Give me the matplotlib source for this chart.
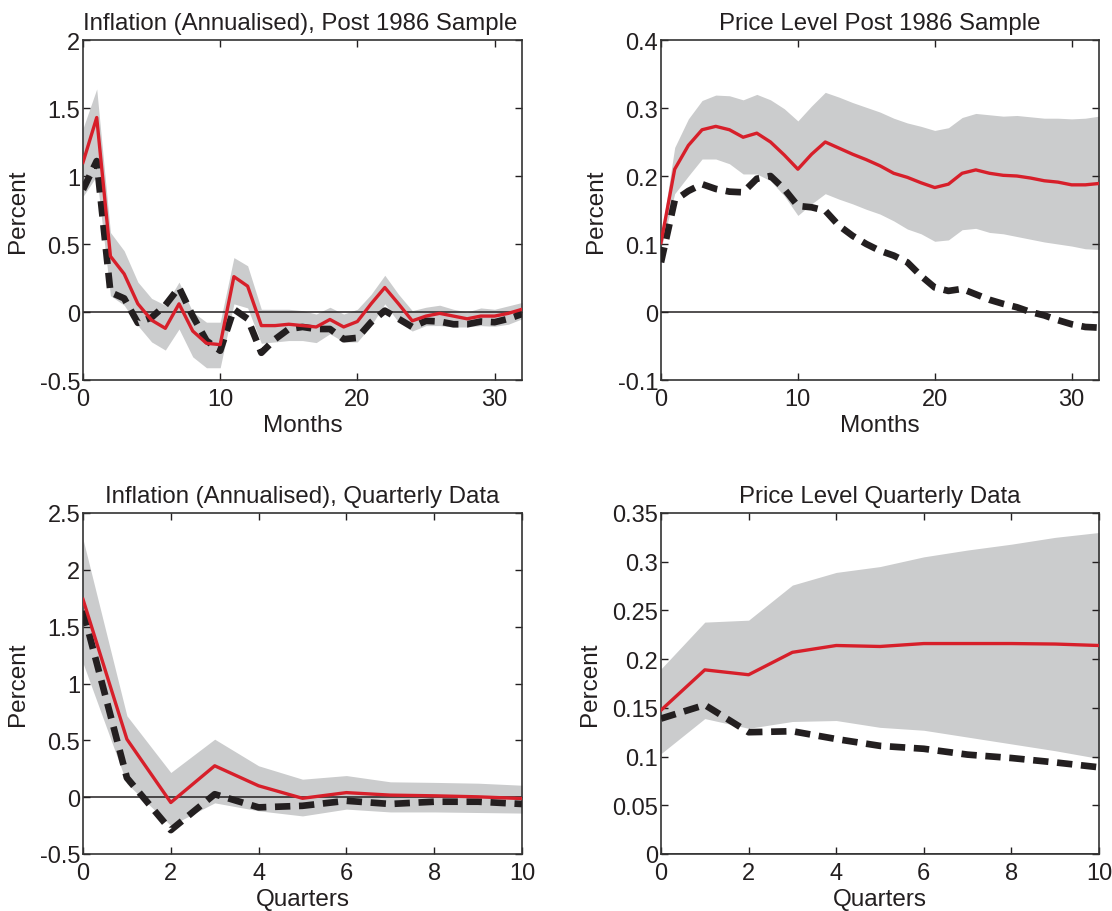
import numpy as np
import matplotlib
matplotlib.use("Agg")
import matplotlib.pyplot as plt

# ── Monthly panels (post 1986 sample), horizon 0..32 ──────────────────────
MONTHS = list(range(33))

INFL_M_RED = [1.10, 1.43, 0.41, 0.28, 0.06, -0.06, -0.12, 0.06, -0.14, -0.23,
              -0.24, 0.26, 0.19, -0.10, -0.10, -0.09, -0.10, -0.11, -0.055, -0.11,
              -0.07, 0.06, 0.18, 0.06, -0.065, -0.03, -0.01, -0.03, -0.05, -0.03,
              -0.03, -0.01, 0.02]
INFL_M_BLK = [0.90, 1.11, 0.145, 0.10, -0.08, -0.04, 0.05, 0.18, -0.03, -0.21,
              -0.285, 0.02, -0.05, -0.30, -0.20, -0.125, -0.11, -0.125, -0.125, -0.20,
              -0.19, -0.075, 0.01, -0.05, -0.11, -0.065, -0.07, -0.09, -0.09, -0.07,
              -0.075, -0.05, -0.015]
INFL_M_HI = [1.35, 1.64, 0.585, 0.45, 0.22, 0.10, 0.05, 0.22, 0.0, -0.075,
             -0.075, 0.40, 0.34, 0.02, 0.02, 0.02, 0.01, -0.015, 0.035, -0.015,
             0.02, 0.13, 0.27, 0.13, 0.01, 0.035, 0.05, 0.02, 0.0, 0.03,
             0.02, 0.045, 0.07]
INFL_M_LO = [0.85, 1.00, 0.12, 0.05, -0.10, -0.22, -0.28, -0.125, -0.33, -0.41,
             -0.41, 0.06, 0.03, -0.23, -0.22, -0.21, -0.21, -0.225, -0.16, -0.22,
             -0.22, -0.10, 0.06, -0.075, -0.14, -0.10, -0.10, -0.11, -0.11, -0.10,
             -0.105, -0.09, -0.05]

PRICE_M_RED = [0.102, 0.21, 0.245, 0.268, 0.273, 0.268, 0.257, 0.263, 0.25, 0.231,
               0.21, 0.232, 0.25, 0.241, 0.232, 0.224, 0.215, 0.204, 0.198, 0.19,
               0.183, 0.188, 0.204, 0.209, 0.204, 0.201, 0.20, 0.197, 0.193, 0.191,
               0.187, 0.187, 0.189]
PRICE_M_BLK = [0.073, 0.164, 0.178, 0.188, 0.181, 0.177, 0.176, 0.196, 0.20, 0.181,
               0.156, 0.154, 0.149, 0.127, 0.112, 0.10, 0.09, 0.083, 0.073, 0.053,
               0.036, 0.031, 0.034, 0.026, 0.018, 0.012, 0.007, 0.0, -0.005, -0.012,
               -0.018, -0.022, -0.023]
PRICE_M_HI = [0.11, 0.242, 0.284, 0.311, 0.319, 0.318, 0.312, 0.32, 0.312, 0.299,
              0.281, 0.303, 0.323, 0.316, 0.308, 0.301, 0.294, 0.285, 0.278, 0.273,
              0.267, 0.271, 0.286, 0.292, 0.29, 0.288, 0.289, 0.287, 0.285, 0.285,
              0.284, 0.285, 0.288]
PRICE_M_LO = [0.093, 0.174, 0.20, 0.225, 0.225, 0.218, 0.203, 0.203, 0.193, 0.171,
              0.142, 0.159, 0.174, 0.166, 0.159, 0.151, 0.144, 0.134, 0.122, 0.115,
              0.104, 0.106, 0.121, 0.123, 0.117, 0.115, 0.111, 0.107, 0.103, 0.10,
              0.097, 0.093, 0.092]

# ── Quarterly panels, horizon 0..10 ───────────────────────────────────────
QUARTERS = list(range(11))

INFL_Q_RED = [1.74, 0.51, -0.047, 0.276, 0.10, -0.01, 0.04, 0.018, 0.012, 0.003, -0.012]
INFL_Q_BLK = [1.64, 0.17, -0.29, 0.026, -0.09, -0.076, -0.032, -0.06, -0.04, -0.04, -0.06]
INFL_Q_HI = [2.27, 0.716, 0.217, 0.51, 0.276, 0.158, 0.19, 0.135, 0.13, 0.123, 0.105]
INFL_Q_LO = [1.18, 0.12, -0.25, -0.05, -0.12, -0.165, -0.105, -0.13, -0.13, -0.135, -0.14]

PRICE_Q_RED = [0.1476, 0.189, 0.184, 0.207, 0.214, 0.213, 0.216, 0.216, 0.216, 0.2155, 0.214]
PRICE_Q_BLK = [0.139, 0.153, 0.125, 0.126, 0.118, 0.111, 0.108, 0.102, 0.0985, 0.094, 0.089]
PRICE_Q_HI = [0.19, 0.238, 0.24, 0.276, 0.289, 0.295, 0.305, 0.312, 0.318, 0.325, 0.33]
PRICE_Q_LO = [0.103, 0.139, 0.129, 0.136, 0.137, 0.13, 0.127, 0.12, 0.113, 0.106, 0.098]

# ── Axis ticks / labels ───────────────────────────────────────────────────
YT_INFL_M = [-0.5, 0, 0.5, 1, 1.5, 2]
YL_INFL_M = ["-0.5", "0", "0.5", "1", "1.5", "2"]
YT_PRICE_M = [-0.1, 0, 0.1, 0.2, 0.3, 0.4]
YL_PRICE_M = ["-0.1", "0", "0.1", "0.2", "0.3", "0.4"]
YT_INFL_Q = [-0.5, 0, 0.5, 1, 1.5, 2, 2.5]
YL_INFL_Q = ["-0.5", "0", "0.5", "1", "1.5", "2", "2.5"]
YT_PRICE_Q = [0, 0.05, 0.1, 0.15, 0.2, 0.25, 0.3, 0.35]
YL_PRICE_Q = ["0", "0.05", "0.1", "0.15", "0.2", "0.25", "0.3", "0.35"]
XT_M = [0, 10, 20, 30]
XT_Q = [0, 2, 4, 6, 8, 10]

RED = "#d71f2a"
BLACK = "#231f20"
GREY = "#cbcccd"
TEXT = "#231f20"

plt.rcParams["font.family"] = ["Liberation Sans", "DejaVu Sans"]
plt.rcParams["text.color"] = TEXT


def panel(ax, x, red, blk, hi, lo, title, xlabel, xlim, xticks, yticks, ylabels,
          title_loc="center"):
    ax.fill_between(x, lo, hi, color=GREY, linewidth=0, zorder=1)
    ax.axhline(0, color=BLACK, linewidth=1.1, zorder=2)
    ax.plot(x, blk, color=BLACK, linewidth=4.8, linestyle=(0, (2.3, 1.3)),
            dash_capstyle="butt", zorder=3)
    ax.plot(x, red, color=RED, linewidth=2.4, zorder=4)
    ax.set_xlim(*xlim)
    ax.set_ylim(yticks[0], yticks[-1])
    ax.set_xticks(xticks)
    ax.set_xticklabels([str(t) for t in xticks])
    ax.set_yticks(yticks)
    ax.set_yticklabels(ylabels)
    ax.tick_params(direction="in", top=True, right=True, length=5, width=1.0,
                   labelsize=17, colors=TEXT, pad=2)
    ax.tick_params(axis="x", pad=5.5)
    for sp in ax.spines.values():
        sp.set_linewidth(1.2)
        sp.set_color("#333333")
    ax.set_title(title, fontsize=17.3, pad=8, color=TEXT, loc=title_loc)
    ax.set_xlabel(xlabel, fontsize=17.5, labelpad=3.5, color=TEXT)
    ax.set_ylabel("Percent", fontsize=17.5, labelpad=8, color=TEXT)


fig = plt.figure(figsize=(11.12, 9.12), dpi=100)
W, H = 1112, 912
ax_tl = fig.add_axes([83 / W, (H - 381) / H, 439 / W, 340 / H])
ax_tr = fig.add_axes([661 / W, (H - 381) / H, 438 / W, 340 / H])
ax_bl = fig.add_axes([83 / W, (H - 855) / H, 439 / W, 341 / H])
ax_br = fig.add_axes([661 / W, (H - 855) / H, 438 / W, 341 / H])

panel(ax_tl, MONTHS, INFL_M_RED, INFL_M_BLK, INFL_M_HI, INFL_M_LO,
      "Inflation (Annualised), Post 1986 Sample", "Months", (0, 32), XT_M,
      YT_INFL_M, YL_INFL_M, title_loc="left")
panel(ax_tr, MONTHS, PRICE_M_RED, PRICE_M_BLK, PRICE_M_HI, PRICE_M_LO,
      "Price Level Post 1986 Sample", "Months", (0, 32), XT_M,
      YT_PRICE_M, YL_PRICE_M)
panel(ax_bl, QUARTERS, INFL_Q_RED, INFL_Q_BLK, INFL_Q_HI, INFL_Q_LO,
      "Inflation (Annualised), Quarterly Data", "Quarters", (0, 10), XT_Q,
      YT_INFL_Q, YL_INFL_Q)
panel(ax_br, QUARTERS, PRICE_Q_RED, PRICE_Q_BLK, PRICE_Q_HI, PRICE_Q_LO,
      "Price Level Quarterly Data", "Quarters", (0, 10), XT_Q,
      YT_PRICE_Q, YL_PRICE_Q)

fig.savefig("out.png", dpi=100, facecolor="white")
